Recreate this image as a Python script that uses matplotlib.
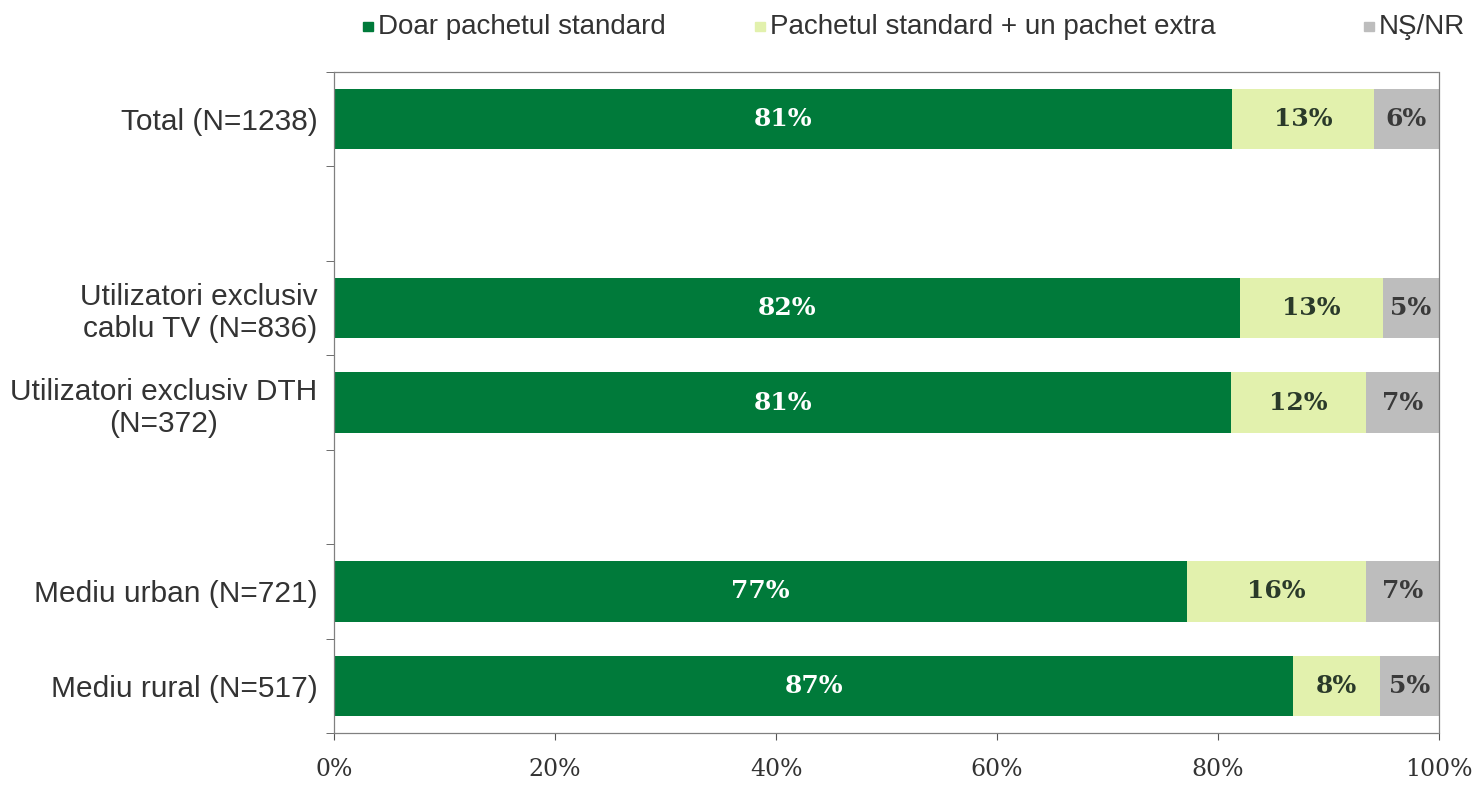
import matplotlib
matplotlib.use("Agg")
import matplotlib.pyplot as plt
from matplotlib.patches import Rectangle
import numpy as np

categories = ["Total (N=1238)", "Utilizatori exclusiv\ncablu TV (N=836)",
              "Utilizatori exclusiv DTH\n(N=372)", "Mediu urban (N=721)", "Mediu rural (N=517)"]
series_names = ["Doar pachetul standard", "Pachetul standard + un pachet extra", "NŞ/NR"]
doar_standard = [81.3, 82.0, 81.2, 77.2, 86.8]
standard_extra = [12.8, 12.9, 12.2, 16.2, 7.9]
ns_nr = [5.9, 5.1, 6.6, 6.6, 5.3]
x_ticks = [0, 20, 40, 60, 80, 100]

colors = ["#007a3a", "#e2f1ad", "#bdbdbd"]
text_colors = ["white", "#2a3a2a", "#3a3a3a"]
slots = [0, 2, 3, 5, 6]  # layout: empty slots between groups

fig = plt.figure(figsize=(14.72, 7.85), dpi=100)
ax = fig.add_axes([0.2269, 0.0662, 0.7507, 0.8421])

series = [doar_standard, standard_extra, ns_nr]
left = np.zeros(len(categories))
for vals, col, tcol in zip(series, colors, text_colors):
    vals = np.array(vals)
    ax.barh(slots, vals, left=left, height=0.64, color=col, edgecolor="none")
    for y, l, v in zip(slots, left, vals):
        ax.text(l + v / 2, y, f"{int(round(v))}%", ha="center", va="center",
                color=tcol, fontsize=18, fontweight="bold", family="DejaVu Serif")
    left += vals

ax.set_xlim(0, 100)
ax.set_ylim(6.5, -0.5)
ax.set_xticks(x_ticks)
ax.set_xticklabels([f"{t}%" for t in x_ticks], family="DejaVu Serif", fontsize=17, color="#333333")
ax.tick_params(axis="x", length=5, color="#555555", pad=13)

ax.set_yticks(slots)
ax.set_yticklabels(categories, family="Liberation Sans", fontsize=21.5, color="#333333")
ax.tick_params(axis="y", which="major", length=0, pad=12)
for lab in ax.get_yticklabels():
    lab.set_multialignment("right")
ax.get_yticklabels()[2].set_multialignment("center")
ax.set_yticks(np.arange(-0.5, 7.0, 1.0), minor=True)
ax.tick_params(axis="y", which="minor", length=6, color="#555555")

for s in ax.spines.values():
    s.set_color("#808080")
    s.set_linewidth(0.9)
    s.set_linestyle((0, (1, 1)))

# legend (manual)
leg_x = [0.2568, 0.5231, 0.9368]
for name, col, lx in zip(series_names, colors, leg_x):
    fig.patches.append(Rectangle((lx - 0.0105, 0.9600), 0.0068, 0.0125,
                                 transform=fig.transFigure, color=col))
    fig.text(lx, 0.9660, name, ha="left", va="center", fontsize=20,
             family="Liberation Sans", color="#333333")

fig.savefig("out.png", dpi=100)
